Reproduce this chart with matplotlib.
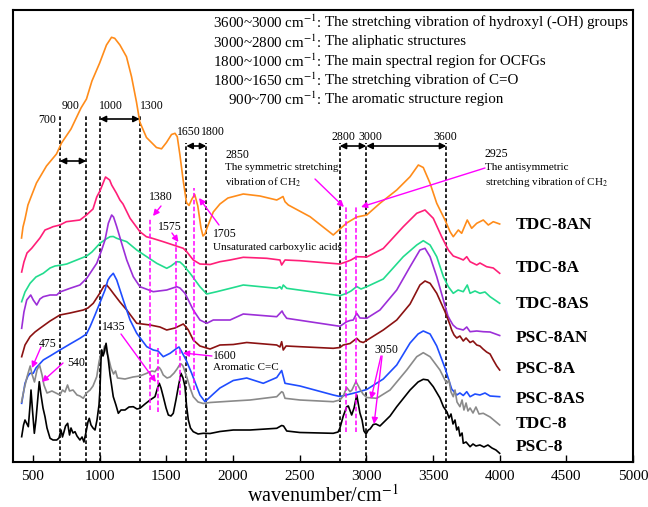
import matplotlib
matplotlib.use("Agg")
import matplotlib.pyplot as plt

plt.rcParams['font.family'] = ['Liberation Serif', 'DejaVu Serif']
plt.rcParams['mathtext.fontset'] = 'stix'

# ---- spectra (wavenumber in cm-1, offset intensity in arbitrary units) ----
tdc8an_wn = [414, 425, 440, 462, 485, 526, 601, 676, 714, 785, 860, 901, 942, 1000, 1051, 1089, 1113, 1152, 1201, 1239,
             1276, 1301, 1351, 1426, 1464, 1501, 1539, 1565, 1582, 1602, 1626, 1651, 1670, 1692, 1713, 1736, 1760, 1775,
             1790, 1805, 1852, 1902, 1962, 2077, 2202, 2328, 2352, 2375, 2390, 2415, 2578, 2752, 2802, 2853, 2878, 2928,
             3003, 3102, 3228, 3328, 3390, 3427, 3478, 3528, 3590, 3628, 3652, 3690, 3715, 3757, 3790, 3828, 3877, 3915,
             3952, 4000]
tdc8an_y = [224, 235, 243, 257, 265, 279, 296, 308, 319, 333, 354, 363, 381, 399, 417, 424.7, 423.7, 417, 405.3, 385.3,
            360, 340, 324.5, 314.5, 313.2, 319.5, 327.5, 328.7, 325.3, 307, 282, 259.5, 256.5, 263, 267.5, 256, 234, 226,
            228, 234, 250, 258, 264, 268, 266, 262, 263.7, 265.5, 260.3, 257, 245.3, 227, 233, 239, 241, 245,
            247, 258.7, 272, 285.3, 297, 294.5, 278.7, 258.7, 242, 230.3, 225.3, 232, 228.7, 242, 233.7, 238.7, 242, 237,
            240.3, 238]

tdc8a_wn = [415, 432, 455, 490, 552, 590, 628, 650, 702, 750, 852, 901, 950, 978, 1002, 1044, 1075, 1090, 1125, 1152,
            1175, 1228, 1302, 1350, 1400, 1477, 1552, 1627, 1653, 1702, 1752, 1828, 1902, 1978, 2077, 2253, 2352, 2365,
            2390, 2502, 2802, 2853, 2885, 2928, 3003, 3127, 3277, 3378, 3440, 3502, 3565, 3615, 3652, 3702, 3727, 3753,
            3778, 3828, 3852, 3902, 3952, 4000]
tdc8a_y = [190, 200, 209, 213.7, 224, 232, 234, 235.3, 237, 240.3, 242, 247, 253, 265, 271, 285, 282, 277, 269, 262,
           258, 243.7, 230.3, 225.3, 223.5, 220.3, 217, 213.7, 210.3, 202, 198, 197.5, 200.3, 202, 204.7, 203.7, 202, 197,
           202, 201.3, 198, 200.3, 202, 205.3, 205, 213.5, 235.3, 248.7, 252, 243.7, 225.3, 212, 206, 203.5, 202, 205.3,
           200.3, 197, 199, 195.3, 194, 188.7]

tdc8as_wn = [415, 440, 478, 522, 577, 628, 665, 715, 753, 828, 903, 942, 1002, 1048, 1078, 1102, 1128, 1203, 1278, 1353,
             1428, 1503, 1535, 1578, 1602, 1627, 1678, 1752, 1803, 1878, 2028, 2077, 2328, 2352, 2365, 2377, 2403, 2802,
             2853, 2885, 2928, 2960, 3003, 3127, 3277, 3378, 3427, 3478, 3528, 3578, 3615, 3652, 3688, 3727, 3757, 3778,
             3815, 3852, 3890, 3928, 4000]
tdc8as_y = [160.3, 170, 178.7, 185, 188.7, 194, 196, 197, 198, 202, 206, 210, 218.7, 223, 225.3, 225.5, 223.7, 220.3, 212,
            205.3, 198.7, 193.7, 196, 200.3, 200, 197, 188.7, 175.3, 168, 170.3, 175.3, 177, 173.7, 175.3, 173, 177, 173.7,
            166.3, 168.7, 171, 175.5, 173, 175.3, 183, 205.3, 217, 221.3, 217, 205.3, 185.3, 175.3, 168.7, 172, 170.3, 177,
            168.7, 171, 168.7, 170, 165.3, 158.7]

psc8an_wn = [415, 432, 453, 483, 502, 528, 552, 577, 628, 678, 702, 778, 852, 903, 978, 1015, 1040, 1065, 1090, 1104,
             1128, 1165, 1203, 1252, 1302, 1402, 1503, 1578, 1602, 1640, 1702, 1752, 1803, 1852, 1978, 2077, 2328, 2352,
             2368, 2379, 2403, 2802, 2853, 2878, 2902, 2928, 2952, 3003, 3102, 3228, 3328, 3402, 3440, 3478, 3528, 3578,
             3612, 3628, 3650, 3678, 3727, 3753, 3778, 3828, 3877, 3928, 4000]
psc8an_y = [133.7, 150, 162, 167, 162, 157, 163, 165.3, 167, 167, 170, 173.7, 177, 183.7, 198.7, 212, 222, 238.7, 247, 245,
            235.3, 218.7, 202, 185.3, 175.3, 170.3, 172, 175.3, 174, 168.7, 152, 142, 138.7, 142, 142, 148, 145.3, 148.7,
            151, 148, 143.7, 135.7, 140.3, 141.5, 142, 148.7, 144, 143.7, 152, 172, 195.3, 212, 213.7, 205.3, 185.3, 162,
            146, 142, 137, 133.7, 132, 135, 130.3, 131, 130.3, 130, 126.5]

psc8a_wn = [415, 440, 478, 515, 552, 628, 702, 778, 877, 912, 952, 1002, 1032, 1053, 1078, 1102, 1152, 1203, 1278, 1378,
            1452, 1503, 1565, 1627, 1648, 1665, 1702, 1752, 1828, 1902, 2002, 2103, 2328, 2352, 2365, 2377, 2398, 2502,
            2752, 2802, 2827, 2878, 2928, 2952, 2977, 3127, 3228, 3328, 3402, 3440, 3478, 3528, 3590, 3628, 3640, 3658,
            3678, 3702, 3727, 3748, 3778, 3800, 3828, 3852, 3875, 3902, 3928, 3952, 3978, 4000]
psc8a_y = [105.3, 117, 125.3, 130, 133.7, 141, 147, 149, 152, 154, 158.7, 169, 176, 177, 173, 168.7, 160, 152, 138.7, 137,
           135, 132, 134, 138, 135, 132, 122, 116, 113, 117, 117.5, 119.5, 117, 115, 120.3, 112, 116, 115.3,
           113.7, 114.5, 117, 118.5, 123.7, 120.5, 119.5, 132, 142, 158, 177, 181, 178.7, 168.7, 150.3, 137, 132, 127,
           124, 126, 121, 124, 119.5, 121, 117, 116, 113, 110, 108, 102, 96, 92]

psc8as_wn = [415, 440, 462, 478, 502, 522, 577, 628, 702, 778, 852, 901, 928, 965, 990, 1040, 1062, 1078, 1102, 1128,
             1177, 1228, 1278, 1353, 1402, 1438, 1477, 1528, 1578, 1595, 1615, 1648, 1690, 1752, 1790, 1852, 1902, 2002,
             2103, 2227, 2328, 2365, 2390, 2502, 2752, 2802, 2902, 3003, 3127, 3228, 3328, 3388, 3427, 3478, 3528, 3590,
             3640, 3678, 3702, 3727, 3753, 3778, 3815, 3852, 3890, 3928, 4000]
psc8as_y = [58.7, 78.7, 86, 88.7, 88.7, 94, 102, 106, 112, 118, 123.7, 128, 135.3, 147, 155.3, 172, 182, 185.3, 188.7, 182,
            162, 142, 128.7, 115.3, 112, 111, 105.3, 108.7, 113.7, 115, 110.3, 102, 88.7, 67, 60.3, 68, 74, 81.5,
            84, 78.7, 84.5, 91.5, 78.7, 76, 67, 65.5, 68.7, 72.5, 83, 97, 119, 128, 131, 128, 116, 94,
            73, 67, 69, 66.5, 70.3, 65.3, 68, 67, 69, 66, 65.3]

tdc8_wn = [414, 432, 455, 479, 492, 511, 530, 549, 568, 582, 605, 642, 672, 702, 721, 740, 759, 774, 800, 830, 852, 877,
           901, 928, 950, 978, 995, 1015, 1025, 1036, 1051, 1065, 1085, 1104, 1119, 1134, 1152, 1190, 1250, 1302, 1353,
           1392, 1415, 1434, 1447, 1460, 1477, 1505, 1528, 1558, 1580, 1599, 1612, 1625, 1653, 1678, 1702, 1738, 1777,
           1828, 2002, 2128, 2328, 2365, 2375, 2390, 2502, 2752, 2802, 2827, 2853, 2878, 2892, 2922, 2952, 2975, 3003,
           3078, 3178, 3303, 3378, 3427, 3478, 3552, 3582, 3603, 3620, 3635, 3652, 3665, 3680, 3702, 3718, 3732, 3748,
           3762, 3778, 3800, 3822, 3845, 3877, 3928, 4000]
tdc8_y = [60, 72, 85, 96, 88, 80, 92, 97, 87, 77, 69, 71, 69, 67, 72, 70, 77, 71, 72, 67, 66, 63.7,
          69, 72, 76, 85.3, 100, 112, 109, 116, 110, 105, 94, 88, 91, 84, 83.7, 83, 85, 86, 88.7,
          91, 90.3, 94, 94.5, 92, 87, 84, 85, 89, 93, 97, 98, 96, 85, 74, 65.3, 60, 58.5,
          59.5, 61, 62, 65.3, 70.3, 69.5, 63.7, 62, 60.3, 62, 66, 74.5, 70.3, 72, 80.3, 73, 68, 64.5,
          63.7, 72, 92, 105.3, 109.3, 105.3, 92, 84, 78.7, 82, 70, 65.3, 72, 60, 55.3, 62, 52, 59,
          51, 54, 49, 55, 48, 48.7, 45, 37]

psc8_wn = [415, 429, 440, 451, 465, 478, 485, 496, 510, 522, 538, 547, 560, 575, 590, 605, 628, 650, 678, 695, 710, 721,
           732, 744, 760, 774, 785, 800, 815, 830, 852, 868, 882, 898, 912, 922, 935, 950, 965, 980, 995, 1002, 1010,
           1015, 1025, 1032, 1040, 1048, 1055, 1065, 1078, 1102, 1122, 1140, 1160, 1190, 1220, 1252, 1280, 1302, 1340,
           1378, 1400, 1415, 1434, 1447, 1460, 1477, 1498, 1515, 1535, 1552, 1572, 1590, 1610, 1625, 1640, 1651, 1665,
           1681, 1702, 1738, 1777, 1828, 1902, 2002, 2128, 2328, 2365, 2379, 2403, 2502, 2752, 2788, 2802, 2827, 2853,
           2865, 2890, 2908, 2928, 2952, 2968, 2982, 2998, 3015, 3028, 3052, 3072, 3102, 3178, 3228, 3328, 3388, 3427,
           3462, 3502, 3552, 3578, 3605, 3620, 3635, 3650, 3665, 3678, 3691, 3702, 3718, 3727, 3748, 3778, 3800, 3822,
           3852, 3882, 3912, 3942, 3972, 4000]
psc8_y = [25.3, 37, 42, 39, 35.3, 57, 72, 52, 28.7, 42, 67, 80.3, 67, 54, 45.3, 34, 23.7, 22, 22, 24, 32, 25,
          30, 36, 38.7, 27, 34, 29, 30.3, 26, 22, 25, 20, 30, 40, 43.7, 37, 34, 32, 42, 57, 72, 102,
          112, 106, 108.7, 114, 118.7, 112, 102, 87, 65.3, 57, 48.7, 52, 52, 55, 55.3, 53, 53.7, 58,
          62, 64, 65.3, 74, 78.7, 74, 65.3, 54, 47, 46, 48.7, 62, 75.3, 88.7, 84, 75.3, 57, 42,
          34, 30.3, 28, 28.7, 28.5, 30.5, 32, 32, 33.7, 36.5, 36, 31, 29.5, 28.7, 30, 34, 46, 55.3,
          56, 47, 54, 67, 49, 42, 31, 28, 32, 33, 37.5, 38, 36, 46, 55.3, 72, 80, 82.7,
          82, 75.3, 64, 55.3, 50, 44, 48, 38, 42, 32, 35, 26, 29, 18.7, 20, 15.3, 18, 16,
          17, 15, 17, 14, 12, 8.7]

series_names = ['TDC-8AN', 'TDC-8A', 'TDC-8AS', 'PSC-8AN', 'PSC-8A', 'PSC-8AS', 'TDC-8', 'PSC-8']
series_colors = ['#ff8c1a', '#ff1f78', '#22dc8e', '#9c2fd8', '#8b1212', '#1f4dff', '#8a8a8a', '#000000']
series_wn = [tdc8an_wn, tdc8a_wn, tdc8as_wn, psc8an_wn, psc8a_wn, psc8as_wn, tdc8_wn, psc8_wn]
series_y = [tdc8an_y, tdc8a_y, tdc8as_y, psc8an_y, psc8a_y, psc8as_y, tdc8_y, psc8_y]
label_y = [237, 194, 158, 124, 93, 63, 38, 15]

# band boundaries (black dashed) and their label heights
band_lines_high = [700, 900, 1000, 1300]
band_lines_low = [1650, 1800, 2800, 3000, 3600]
band_labels = [('700', 605, 342), ('900', 778, 356), ('1000', 1085, 356), ('1300', 1392, 356),
               ('1650', 1666, 330), ('1800', 1850, 330), ('2800', 2825, 325), ('3000', 3028, 325),
               ('3600', 3590, 325)]
band_spans = [(700, 900, 301), (1000, 1300, 343), (1650, 1800, 316), (2800, 3000, 316), (3000, 3600, 316)]

# characteristic peaks (magenta dashed): position, lower and upper extent
peak_marks = [(1380, 52, 243), (1575, 107, 220), (1705, 72, 274), (1435, 50, 114), (1600, 67, 114),
              (2850, 30, 255), (2925, 30, 255)]

region_prefix = ['3600~3000 cm$^{-1}$:', '3000~2800 cm$^{-1}$:', '1800~1000 cm$^{-1}$:',
                 '1800~1650 cm$^{-1}$:', '900~700 cm$^{-1}$:']
region_desc = ['The stretching vibration of hydroxyl (-OH) groups', 'The aliphatic structures',
               'The main spectral region for OCFGs', 'The stretching vibration of C=O',
               'The aromatic structure region']
region_y = [440, 420, 401, 382, 363]

fig = plt.figure(figsize=(6.48, 5.07), dpi=100)
ax = fig.add_axes([13 / 648, 45 / 507, 620 / 648, 452 / 507])
ax.set_xlim(350, 5000)
ax.set_ylim(0, 452)

for wn, yy, c in zip(series_wn, series_y, series_colors):
    ax.plot(wn, yy, color=c, lw=1.2, zorder=3)

for name, ly in zip(series_names, label_y):
    ax.text(4122, ly, name, fontsize=12.5, fontweight='bold', va='center', ha='left')

dash_k = dict(color='black', lw=1.2, ls=(0, (2.2, 1.4)), zorder=2)
for w in band_lines_high:
    ax.plot([w, w], [0, 347], **dash_k)
for w in band_lines_low:
    ax.plot([w, w], [0, 319], **dash_k)
for txt, x, y in band_labels:
    ax.text(x, y, txt, fontsize=8.5, ha='center', va='center')
for a, b, y in band_spans:
    ax.annotate('', xy=(a, y), xytext=(b, y),
                arrowprops=dict(arrowstyle='<|-|>', color='black', lw=1.2, mutation_scale=9,
                                shrinkA=0, shrinkB=0))

for w, lo, hi in peak_marks:
    ax.plot([w, w], [lo, hi], color='#ff00ff', lw=1.1, ls=(0, (3, 1.5)), zorder=4)

mag = '#ff00ff'


def pointer(xy_from, xy_to):
    ax.annotate('', xy=xy_to, xytext=xy_from,
                arrowprops=dict(arrowstyle='-|>', color=mag, lw=1.0, mutation_scale=9,
                                shrinkA=0, shrinkB=0), zorder=5)


ax.text(1460, 265, '1380', fontsize=8.5, ha='center', va='center')
pointer((1460, 256), (1400, 246))
ax.text(1527, 235, '1575', fontsize=8.5, ha='center', va='center')
pointer((1542, 229), (1591, 220))
ax.text(1940, 228, '1705', fontsize=8.5, ha='center', va='center')
pointer((1895, 237), (1745, 264))
ax.text(1850, 215, 'Unsaturated carboxylic acids', fontsize=8, ha='left', va='center')

ax.text(1940, 307, '2850', fontsize=8.5, ha='left', va='center')
ax.text(1940, 294, 'The symmetric stretching', fontsize=8, ha='left', va='center')
ax.text(1940, 280, 'vibration of CH$_2$', fontsize=8, ha='left', va='center')
pointer((2615, 283), (2832, 255))

ax.text(3890, 308, '2925', fontsize=8.5, ha='left', va='center')
ax.text(3890, 295, 'The antisymmetric', fontsize=8, ha='left', va='center')
ax.text(3890, 280, 'stretching vibration of CH$_2$', fontsize=8, ha='left', va='center')
pointer((3890, 294), (2960, 255))

ax.text(1850, 106, '1600', fontsize=8.5, ha='left', va='center')
ax.text(1850, 94, 'Aromatic C=C', fontsize=8, ha='left', va='center')
pointer((1842, 106), (1625, 109))

ax.text(1107, 135, '1435', fontsize=8.5, ha='center', va='center')
pointer((1160, 128), (1422, 80))
ax.text(609, 118, '475', fontsize=8.5, ha='center', va='center')
pointer((560, 115), (492, 94))
ax.text(826, 99, '540', fontsize=8.5, ha='center', va='center')
pointer((725, 99), (567, 80))
ax.text(3148, 112, '3050', fontsize=8.5, ha='center', va='center')
pointer((3110, 106), (3035, 63))
pointer((3118, 106), (3058, 38))

for p, d, y in zip(region_prefix, region_desc, region_y):
    ax.text(2667, y, p, fontsize=10.8, ha='right', va='center')
    ax.text(2690, y, d, fontsize=10.8, ha='left', va='center')

ax.set_xticks(range(500, 5001, 500))
ax.set_yticks([])
ax.tick_params(axis='x', direction='in', length=5, width=1, labelsize=11, pad=6)
for s in ax.spines.values():
    s.set_linewidth(1.5)
ax.set_xlabel('wavenumber/cm$^{-1}$', fontsize=14.5, labelpad=1)

fig.savefig('out.png', dpi=100)
